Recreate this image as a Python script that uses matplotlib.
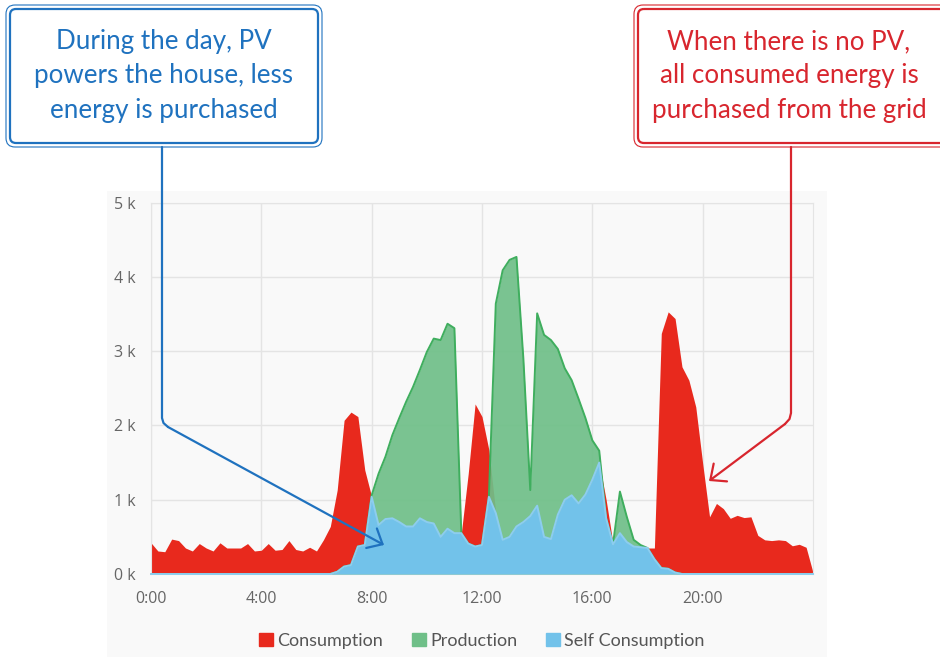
import numpy as np
import matplotlib.pyplot as plt
import matplotlib.transforms as mtransforms
from matplotlib.patches import FancyBboxPatch, FancyArrowPatch, Patch, Rectangle
from matplotlib.lines import Line2D

# 15 minute samples over one day, values in kW
hours = np.arange(0, 24.25, 0.25)

consumption = [
    0.42, 0.31, 0.30, 0.47, 0.45, 0.35, 0.31, 0.41,
    0.35, 0.31, 0.42, 0.35, 0.35, 0.35, 0.41, 0.31,
    0.32, 0.41, 0.32, 0.33, 0.45, 0.33, 0.31, 0.36,
    0.31, 0.46, 0.64, 1.13, 2.07, 2.18, 2.12, 1.40,
    1.04, 0.66, 0.74, 0.75, 0.70, 0.64, 0.64, 0.75,
    0.70, 0.68, 0.50, 0.61, 0.55, 0.55, 1.35, 2.29,
    2.12, 1.67, 0.82, 0.46, 0.50, 0.64, 0.70, 0.78,
    0.92, 0.50, 0.47, 0.80, 1.00, 1.06, 0.95, 1.07,
    1.27, 1.50, 1.00, 0.41, 0.55, 0.43, 0.37, 0.36,
    0.35, 0.35, 3.24, 3.53, 3.44, 2.79, 2.61, 2.25,
    1.49, 0.77, 0.95, 0.88, 0.75, 0.79, 0.76, 0.77,
    0.52, 0.46, 0.45, 0.46, 0.45, 0.38, 0.40, 0.36,
    0.02,
]

production = [
    0, 0, 0, 0, 0, 0, 0, 0,
    0, 0, 0, 0, 0, 0, 0, 0,
    0, 0, 0, 0, 0, 0, 0, 0,
    0, 0, 0, 0.03, 0.10, 0.12, 0.37, 0.39,
    1.06, 1.35, 1.58, 1.87, 2.10, 2.32, 2.52, 2.75,
    2.99, 3.17, 3.15, 3.37, 3.31, 0.55, 0.41, 0.37,
    0.39, 1.04, 3.64, 4.09, 4.23, 4.27, 2.90, 1.13,
    3.51, 3.22, 3.15, 3.03, 2.77, 2.61, 2.36, 2.10,
    1.80, 1.66, 0.75, 0.40, 1.11, 0.77, 0.46, 0.39,
    0.35, 0.20, 0.08, 0.07, 0.02, 0, 0, 0,
    0, 0, 0, 0, 0, 0, 0, 0,
    0, 0, 0, 0, 0, 0, 0, 0,
    0,
]

self_consumption = [
    0, 0, 0, 0, 0, 0, 0, 0,
    0, 0, 0, 0, 0, 0, 0, 0,
    0, 0, 0, 0, 0, 0, 0, 0,
    0, 0, 0, 0.03, 0.10, 0.12, 0.37, 0.39,
    1.04, 0.66, 0.74, 0.75, 0.70, 0.64, 0.64, 0.75,
    0.70, 0.68, 0.50, 0.61, 0.55, 0.55, 0.41, 0.37,
    0.39, 1.04, 0.82, 0.46, 0.50, 0.64, 0.70, 0.78,
    0.92, 0.50, 0.47, 0.80, 1.00, 1.06, 0.95, 1.07,
    1.27, 1.50, 0.75, 0.40, 0.55, 0.43, 0.37, 0.36,
    0.35, 0.20, 0.08, 0.07, 0.02, 0, 0, 0,
    0, 0, 0, 0, 0, 0, 0, 0,
    0, 0, 0, 0, 0, 0, 0, 0,
    0,
]

x_ticks = [0, 4, 8, 12, 16, 20]
x_labels = ['0:00', '4:00', '8:00', '12:00', '16:00', '20:00']
y_ticks = [0, 1, 2, 3, 4, 5]
y_labels = ['0 k', '1 k', '2 k', '3 k', '4 k', '5 k']

series_names = ['Consumption', 'Production', 'Self Consumption']

left_note = 'During the day, PV\npowers the house, less\nenergy is purchased'
right_note = 'When there is no PV,\nall consumed energy is\npurchased from the grid'

RED = '#e8291d'
GREEN = '#6fbf88'
GREEN_LINE = '#3fae5e'
BLUE = '#72c2ea'
BLUE_NOTE = '#1f72bf'
RED_NOTE = '#d8262e'

fig = plt.figure(figsize=(9.4, 6.57), dpi=100)
# image pixel coordinates, origin top left
px = mtransforms.Affine2D().scale(1 / 940, -1 / 657).translate(0, 1) + fig.transFigure

fig.add_artist(Rectangle((107, 191), 720, 470, transform=px,
                         facecolor='#f9f9f9', edgecolor='none', zorder=-1))

ax = fig.add_axes([151 / 940, 1 - 574 / 657, 662 / 940, 371.3 / 657])
ax.set_facecolor('none')

ax.fill_between(hours, 0, consumption, color=RED, lw=0, zorder=2)
ax.fill_between(hours, 0, production, color=GREEN, alpha=0.92, lw=0, zorder=3)
ax.plot(hours, production, color=GREEN_LINE, lw=1.4, zorder=4)
ax.fill_between(hours, 0, self_consumption, color=BLUE, lw=0, zorder=5)
ax.plot(hours, self_consumption, color='#8dcdef', lw=1.4, zorder=6, clip_on=False)

ax.set_xlim(0, 24)
ax.set_ylim(0, 5)
ax.set_xticks(x_ticks, x_labels)
ax.set_yticks(y_ticks, y_labels)
ax.grid(color='#e4e4e4', lw=1)
ax.set_axisbelow(True)
for s in ax.spines.values():
    s.set_color('#e4e4e4')
ax.tick_params(axis='x', length=0, pad=12, labelsize=11.5, labelcolor='#666666')
ax.tick_params(axis='y', length=0, pad=11, labelsize=11.5, labelcolor='#666666')
for lab in ax.get_xticklabels() + ax.get_yticklabels():
    lab.set_family('Open Sans')

handles = [Patch(color=RED), Patch(color=GREEN), Patch(color=BLUE)]
fig.legend(handles, series_names, loc='center', bbox_to_anchor=(482 / 940, 1 - 641 / 657),
           ncol=3, frameon=False, handlelength=0.75, handleheight=0.75,
           handletextpad=0.25, columnspacing=1.6,
           prop={'family': 'Lato', 'size': 13}, labelcolor='#555555')


def callout_box(x0, y0, x1, y1, color):
    outer = FancyBboxPatch((x0, y0), x1 - x0, y1 - y0, boxstyle='round,pad=0,rounding_size=9',
                           transform=px, facecolor='white', edgecolor=color, lw=0.8, zorder=10)
    inner = FancyBboxPatch((x0 + 4, y0 + 4), x1 - x0 - 8, y1 - y0 - 8,
                           boxstyle='round,pad=0,rounding_size=6',
                           transform=px, facecolor='none', edgecolor=color, lw=1.6, zorder=11)
    fig.add_artist(outer)
    fig.add_artist(inner)


def pointer(points, tip, color):
    xs = [p[0] for p in points]
    ys = [p[1] for p in points]
    fig.add_artist(Line2D(xs, ys, transform=px, color=color, lw=1.6,
                          solid_capstyle='round', solid_joinstyle='round', zorder=12))
    fig.add_artist(FancyArrowPatch(points[-1], tip, transform=px,
                                   arrowstyle='->,head_length=0.9,head_width=0.8',
                                   mutation_scale=10, shrinkA=0, shrinkB=0,
                                   color=color, lw=1.6, zorder=12))


callout_box(6, 5, 322, 147, BLUE_NOTE)
callout_box(634, 5, 954, 147, RED_NOTE)

fig.text(164, 76, left_note, transform=px, ha='center', va='center', color=BLUE_NOTE,
         family='Lato', fontsize=18.7, linespacing=1.48, zorder=13)
fig.text(789, 76, right_note, transform=px, ha='center', va='center', color=RED_NOTE,
         family='Lato', fontsize=18.7, linespacing=1.48, zorder=13)

pointer([(162, 147), (162, 418), (163.5, 423), (168, 427)], (384, 545), BLUE_NOTE)
pointer([(791, 147), (791, 413), (789.5, 419), (785, 424)], (709, 481), RED_NOTE)

fig.savefig('out.png', dpi=100)
